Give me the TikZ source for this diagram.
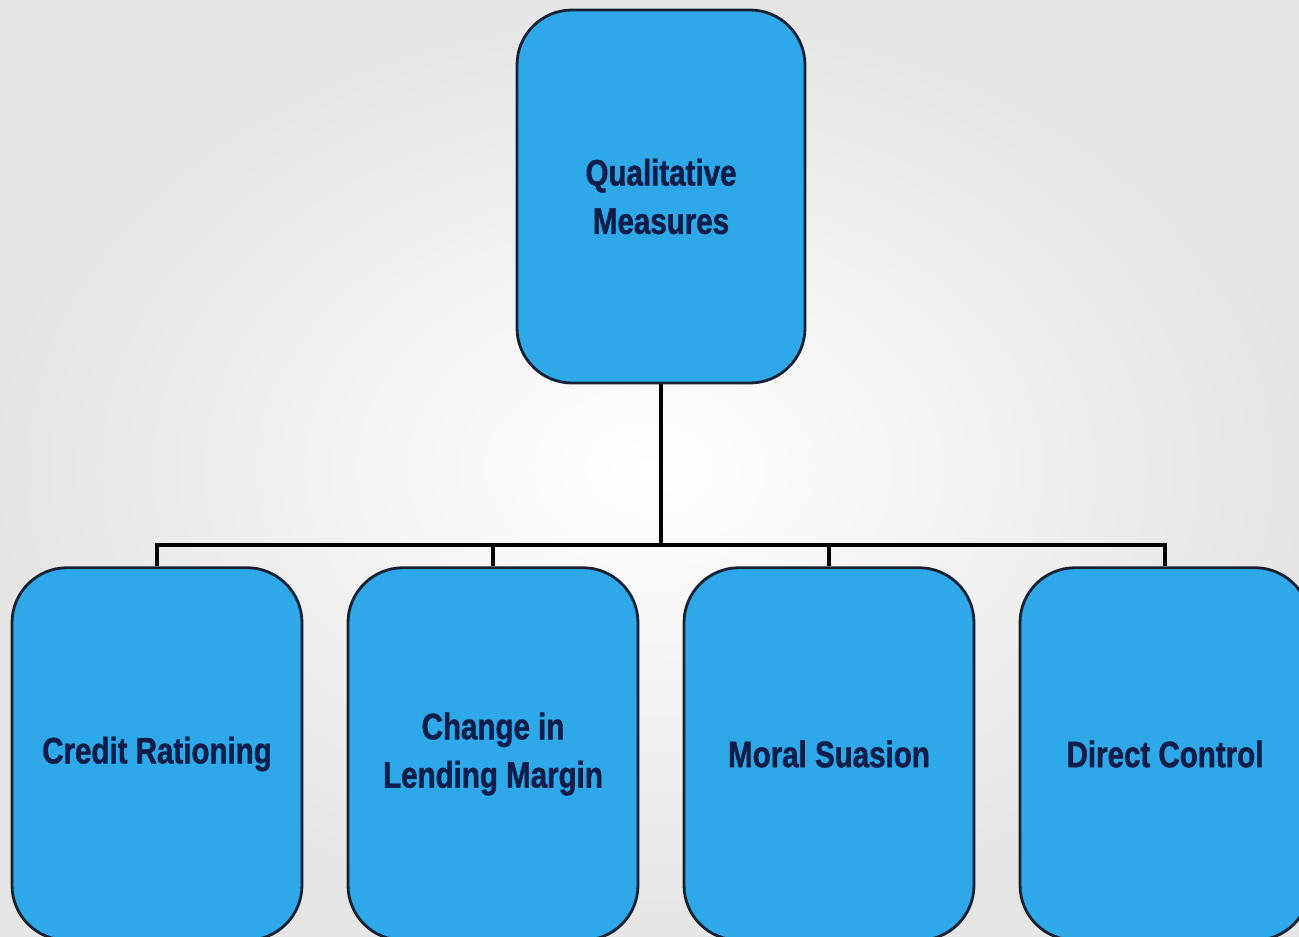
\documentclass[tikz,border=0pt]{standalone}
\usepackage{graphics,graphicx,xcolor}
\usepackage{fontspec}
\setmainfont{Liberation Sans}
\newfontfamily\measurefont{Liberation Sans}[FakeStretch=0.8, FakeBold=1.2]
\usepackage{tikz}
\usetikzlibrary{arrows.meta, positioning}

\definecolor{boxblue}{RGB}{46,168,232}
\definecolor{boxtext}{RGB}{14,30,72}
\definecolor{boxline}{RGB}{22,34,52}

\tikzset{
    measure/.style = {draw=boxline, line width=1.6pt, fill=boxblue, rounded corners=1.1cm,
        minimum width=5.8cm, minimum height=7.45cm, align=center, text=boxtext,
        font=\measurefont\bfseries\fontsize{21}{27.5}\selectfont},
    link/.style = {draw=black, line width=2.5pt}
}

\begin{document}
\begin{tikzpicture}[node distance = 6.72cm, on grid, auto]
    \shade [inner color=white, outer color=gray!20] (0,0) rectangle (25.98,-18.74);
    \useasboundingbox (0,0) rectangle (25.98,-18.74);

    \node (top) [measure, minimum width=5.76cm, minimum height=7.46cm] at (13.22,-3.93) {Qualitative\\Measures};

    \node (b1) [measure] at (3.14,-15.08) {Credit Rationing};
    \node (b2) [measure, right=of b1] {Change in\\Lending Margin};
    \node (b3) [measure, right=of b2] {Moral Suasion};
    \node (b4) [measure, right=of b3] {Direct Control};

    \coordinate (split) at (13.22,-10.9);

\path [link]
    (top.south) -- (split)
    (b1.north) |- (split)
    (b2.north) |- (split)
    (b3.north) |- (split)
    (b4.north) |- (split);

\end{tikzpicture}
\end{document}
